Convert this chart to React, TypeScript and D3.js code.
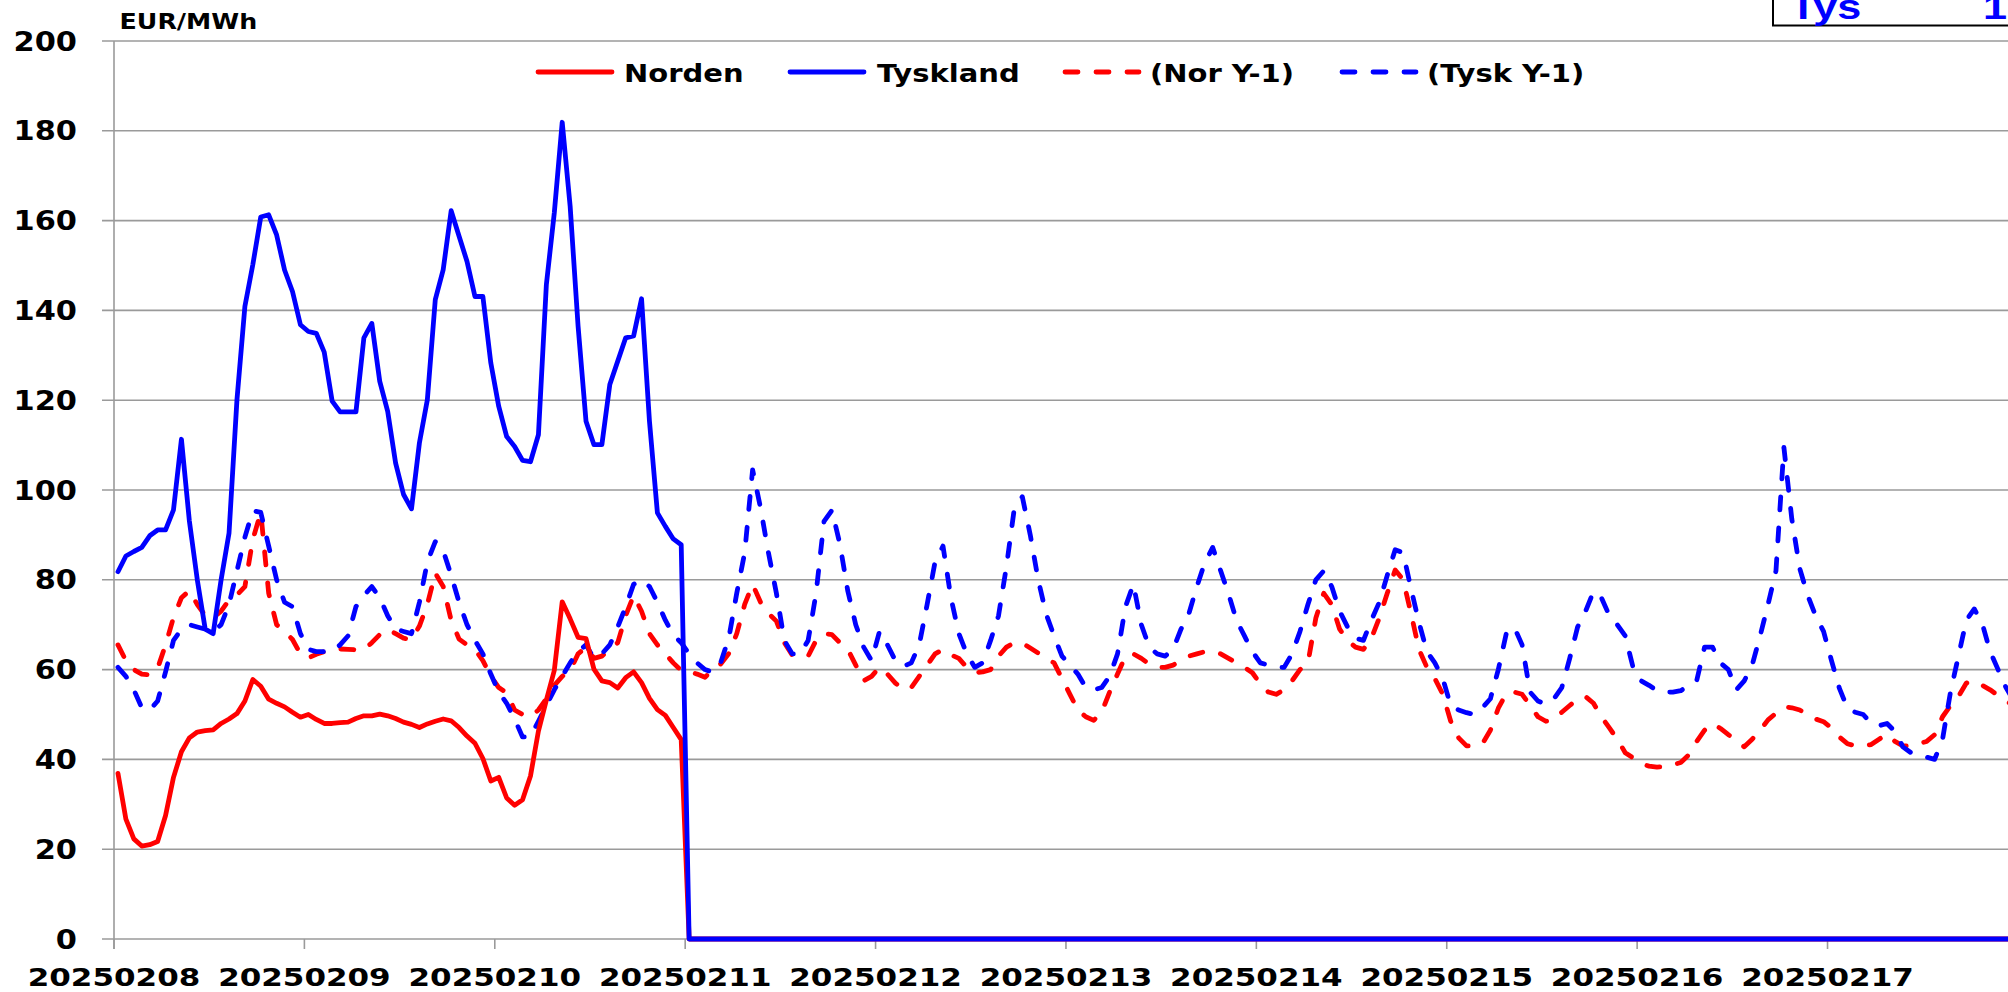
import React from 'react';
import * as d3 from 'd3';

// ---------- DATA ----------
const dayLabels = ['20250208', '20250209', '20250210', '20250211', '20250212', '20250213', '20250214', '20250215', '20250216', '20250217'];
const yTicks = [0, 20, 40, 60, 80, 100, 120, 140, 160, 180, 200];
const unitLabel = 'EUR/MWh';
const seriesNames = ['Norden', 'Tyskland', '(Nor Y-1)', '(Tysk Y-1)'];

// hourly values (current period, 0 after data ends)
const norden = [
  36.9, 26.7, 22.3, 20.7, 21, 21.7, 27.5, 36, 41.7, 44.8, 46.1, 46.4, 46.6, 48, 49, 50.2, 53, 57.8, 56.3, 53.4, 52.5, 51.7, 50.5, 49.4,
  50, 48.9, 48, 48, 48.2, 48.3, 49.1, 49.7, 49.7, 50.1, 49.7, 49.1, 48.3, 47.8, 47.1, 47.9, 48.5, 49, 48.6, 47.1, 45.2, 43.6, 40.2, 35.2,
  36, 31.4, 29.8, 31, 36.3, 46.3, 53.2, 59.8, 75.1, 71.3, 67.2, 66.9, 60.1, 57.5, 57.1, 55.9, 58.2, 59.5, 57.1, 53.6, 51.1, 49.8, 47.1, 44.4,
  0, 0, 0, 0, 0, 0, 0, 0, 0, 0, 0, 0, 0, 0, 0, 0, 0, 0, 0, 0, 0, 0, 0, 0,
  0, 0, 0, 0, 0, 0, 0, 0, 0, 0, 0, 0, 0, 0, 0, 0, 0, 0, 0, 0, 0, 0, 0, 0,
  0, 0, 0, 0, 0, 0, 0, 0, 0, 0, 0, 0, 0, 0, 0, 0, 0, 0, 0, 0, 0, 0, 0, 0,
  0, 0, 0, 0, 0, 0, 0, 0, 0, 0, 0, 0, 0, 0, 0, 0, 0, 0, 0, 0, 0, 0, 0, 0,
  0, 0, 0, 0, 0, 0, 0, 0, 0, 0, 0, 0, 0, 0, 0, 0, 0, 0, 0, 0, 0, 0, 0, 0,
  0, 0, 0, 0, 0, 0, 0, 0, 0, 0, 0, 0, 0, 0, 0, 0, 0, 0, 0, 0, 0, 0, 0, 0,
  0, 0, 0, 0, 0, 0, 0, 0, 0, 0, 0, 0, 0, 0, 0, 0, 0, 0, 0, 0, 0, 0, 0, 0,
];

const tyskland = [
  81.8, 85.3, 86.3, 87.2, 89.8, 91.1, 91.1, 95.6, 111.3, 93.1, 80, 69, 68, 80, 90.4, 120.1, 140.9, 150.2, 160.8, 161.3, 156.8, 149, 144.2, 136.8,
  135.3, 134.9, 130.7, 119.8, 117.4, 117.4, 117.4, 133.9, 137.1, 124.2, 117.5, 106, 99, 95.8, 110.5, 120.1, 142.4, 149.1, 162.2, 156.5, 150.9, 143.1, 143.1, 128.3,
  118.6, 111.9, 109.7, 106.6, 106.3, 112.3, 145.7, 161.7, 181.9, 163.2, 136.5, 115.3, 110.1, 110.1, 123.5, 128.7, 133.9, 134.3, 142.6, 115.3, 94.9, 91.9, 89.1, 87.8,
  0, 0, 0, 0, 0, 0, 0, 0, 0, 0, 0, 0, 0, 0, 0, 0, 0, 0, 0, 0, 0, 0, 0, 0,
  0, 0, 0, 0, 0, 0, 0, 0, 0, 0, 0, 0, 0, 0, 0, 0, 0, 0, 0, 0, 0, 0, 0, 0,
  0, 0, 0, 0, 0, 0, 0, 0, 0, 0, 0, 0, 0, 0, 0, 0, 0, 0, 0, 0, 0, 0, 0, 0,
  0, 0, 0, 0, 0, 0, 0, 0, 0, 0, 0, 0, 0, 0, 0, 0, 0, 0, 0, 0, 0, 0, 0, 0,
  0, 0, 0, 0, 0, 0, 0, 0, 0, 0, 0, 0, 0, 0, 0, 0, 0, 0, 0, 0, 0, 0, 0, 0,
  0, 0, 0, 0, 0, 0, 0, 0, 0, 0, 0, 0, 0, 0, 0, 0, 0, 0, 0, 0, 0, 0, 0, 0,
  0, 0, 0, 0, 0, 0, 0, 0, 0, 0, 0, 0, 0, 0, 0, 0, 0, 0, 0, 0, 0, 0, 0, 0,
];

// previous year, hourly
const norY1 = [
  65.5, 62, 60, 59, 58.8, 60.3, 65.5, 71.6, 76, 77.6, 74.5, 72, 71.5, 73, 75.5, 76.6, 78.5, 89, 95, 77, 70, 68.5, 66.7, 63.5,
  62.6, 63.4, 64, 64.5, 64.6, 64.5, 64.4, 64.4, 66, 67.8, 69, 68, 67, 66.7, 69.7, 74.5, 81.5, 78.5, 71, 66.8, 65.5, 64.5, 62, 58.5,
  56, 54.8, 51, 50, 49.5, 51, 53.5, 56.5, 58.5, 59.8, 63.5, 65, 62.5, 63, 64.5, 66, 72, 76.5, 73, 68, 65.5, 63.5, 61.5, 59.8,
  59.5, 59, 58.3, 60, 61.3, 63.6, 68, 74.5, 79, 75, 72.5, 70.8, 66, 63.2, 63.1, 63, 66.5, 68, 67.8, 66, 64.5, 61, 57.5, 58.5,
  60.5, 59, 57, 55.5, 56, 58.5, 61, 63.5, 64.5, 63.3, 62.5, 60.5, 59.3, 59.5, 60, 63, 65, 66, 65.9, 64.8, 63.7, 62.5, 61.5, 58,
  54.5, 51, 49.5, 48.7, 50.5, 55, 59, 63, 63.5, 62.5, 61.2, 60.5, 60.5, 61, 62, 63, 63.5, 64, 64, 63.5, 62.5, 61.5, 60.5, 59.3,
  56.8, 55, 54.5, 55.5, 57.5, 60, 61.5, 71.5, 77, 74.5, 69, 66.5, 65, 64.5, 67, 71.5, 77, 82.2, 80, 72.5, 64.5, 60.5, 58, 54.5,
  48.5, 44.8, 43, 43, 43.5, 46.5, 51.4, 54.7, 55, 54.5, 52, 49.5, 48.5, 48.8, 50.5, 52, 53.5, 54, 52.5, 49.5, 47, 44.5, 41.5, 40.3,
  39, 38.5, 38.3, 38.4, 38.8, 39.3, 41, 44, 46.5, 48, 46.9, 45.5, 44.3, 42.8, 44.5, 46.5, 48.8, 50.3, 51.7, 51.5, 51, 50, 49, 48.4,
  47, 45, 43.5, 43, 43, 43.3, 44.5, 45.6, 44, 43, 43, 43.5, 44, 45.5, 49.5, 52, 54, 57, 57.5, 56.5, 55.5, 54.2, 53, 52,
];

const tyskY1 = [
  60.5, 58.5, 55.5, 51.5, 51, 53, 59.5, 66.5, 69, 70, 69.5, 69, 68.5, 70, 74.5, 82, 89.5, 95.4, 95, 87.5, 80, 75, 74, 68,
  64.5, 64, 64, 64, 65.5, 67.5, 74, 76.5, 78.5, 76, 72, 69, 68.5, 68, 75, 84, 88.5, 86.5, 81, 75, 70, 66.5, 63.5, 59,
  55, 52.5, 49, 45, 45, 48.5, 52, 55.5, 58.5, 61.5, 64, 65.5, 62.5, 63.5, 65.5, 69.5, 74, 79, 80, 78.5, 75, 71, 67.7, 66,
  63.5, 61.5, 60, 59.4, 61.7, 67, 77, 86, 104.5, 96, 86, 77, 66.5, 63.5, 63.5, 66.5, 77, 93, 95.5, 88, 77.5, 70, 65, 62,
  68.5, 65.5, 62, 60.7, 61.5, 65.5, 74.5, 84, 87.5, 76, 68, 63.5, 60.5, 61.5, 66.5, 72, 83, 96, 98.5, 90, 80, 72.4, 67.5, 63,
  61, 59, 56, 55.5, 56, 58.5, 63.5, 74, 79, 70, 65, 63.5, 63, 64.5, 69, 72.5, 78.5, 83.8, 87.2, 82, 76.8, 71, 67.5, 64,
  61.5, 61, 60.5, 60.5, 63.5, 68.5, 74.5, 80, 82, 78.5, 73, 69.5, 67, 66.5, 71, 75, 81, 86.7, 86, 78, 70.5, 64, 61.5, 58,
  52, 51, 50.4, 50, 51.5, 53.5, 60, 68, 69.5, 65.5, 55, 53, 52.3, 53.5, 56, 62.5, 69.5, 73, 77.4, 76, 72, 70, 67.5, 60.4,
  57.5, 56.5, 55.3, 55, 55, 55.3, 56.5, 57.5, 65, 65, 61.5, 60, 55.5, 57.5, 61, 67.5, 74.5, 82, 109.5, 93.5, 82.5, 76.5, 72, 68.5,
  62, 55.8, 51.5, 50.5, 50, 48, 47.5, 48, 46.2, 42.8, 41.5, 41, 40.5, 40, 44.5, 55, 63, 71, 73.5, 70.3, 64, 60, 56, 53,
];

// ---------- LAYOUT ----------
const W = 2008;
const H = 992;
const plotLeft = 114;
const hourW = 7.933;
const nHours = 240;
const yTop = 41;
const yBottom = 939;
const RED = '#ff0000';
const BLUE = '#0000ff';
const GRID = '#9a9a9a';
const FONT = '"DejaVu Sans", Verdana, sans-serif';
const DASH = '13 18';
const LW = 4.8;

export default function App() {
  const x = d3.scaleLinear().domain([0, nHours]).range([plotLeft, plotLeft + nHours * hourW]);
  const y = d3.scaleLinear().domain([0, 200]).range([yBottom, yTop]);
  const line = d3
    .line<number>()
    .x((_, i) => x(i + 0.5))
    .y((v) => y(v));

  const series = [
    { name: seriesNames[2], data: norY1, color: RED, dash: DASH },
    { name: seriesNames[3], data: tyskY1, color: BLUE, dash: DASH },
    { name: seriesNames[0], data: norden, color: RED, dash: undefined },
    { name: seriesNames[1], data: tyskland, color: BLUE, dash: undefined },
  ];

  const legend = [
    { name: seriesNames[0], color: RED, dash: undefined, x0: 538, tx: 624 },
    { name: seriesNames[1], color: BLUE, dash: undefined, x0: 790, tx: 877 },
    { name: seriesNames[2], color: RED, dash: DASH, x0: 1065, tx: 1150 },
    { name: seriesNames[3], color: BLUE, dash: DASH, x0: 1342, tx: 1427 },
  ];

  const dayTicks = dayLabels.map((d, k) => ({ label: d, px: x(k * 24) }));

  return (
    <svg
      width={W}
      height={H}
      viewBox={`0 0 ${W} ${H}`}
      style={{ position: 'absolute', left: 0, top: 0, display: 'block', background: '#fff' }}
    >
      <rect x={0} y={0} width={W} height={H} fill="#fff" />

      {/* gridlines + y ticks */}
      {yTicks.map((t) => (
        <g key={t}>
          <line x1={plotLeft - 12} x2={W} y1={y(t)} y2={y(t)} stroke={GRID} strokeWidth={1.6} />
          <text
            transform={`translate(77,${y(t) + 9.5}) scale(1.17,1)`}
            textAnchor="end"
            fontFamily={FONT}
            fontWeight="bold"
            fontSize={26}
            fill="#000"
          >
            {t}
          </text>
        </g>
      ))}

      {/* y axis line */}
      <line x1={plotLeft} x2={plotLeft} y1={yTop} y2={yBottom + 10} stroke={GRID} strokeWidth={1.6} />

      {/* x ticks + labels */}
      {dayTicks.map((d) => (
        <g key={d.label}>
          <line x1={d.px} x2={d.px} y1={yBottom} y2={yBottom + 10} stroke={GRID} strokeWidth={1.6} />
          <text
            transform={`translate(${d.px},986) scale(1.24,1)`}
            textAnchor="middle"
            fontFamily={FONT}
            fontWeight="bold"
            fontSize={25}
            fill="#000"
          >
            {d.label}
          </text>
        </g>
      ))}

      {/* series */}
      {series.map((s) => (
        <path
          key={s.name}
          d={line(s.data) || ''}
          fill="none"
          stroke={s.color}
          strokeWidth={LW}
          strokeDasharray={s.dash}
          strokeLinecap="round"
          strokeLinejoin="round"
        />
      ))}

      {/* unit label */}
      <text
        transform={`translate(119.6,29.3) scale(1.15,1)`}
        fontFamily={FONT}
        fontWeight="bold"
        fontSize={22}
        fill="#000"
      >
        {unitLabel}
      </text>

      {/* legend */}
      {legend.map((l) => (
        <g key={l.name}>
          <line
            x1={l.x0}
            x2={l.x0 + 74}
            y1={72}
            y2={72}
            stroke={l.color}
            strokeWidth={LW}
            strokeDasharray={l.dash}
            strokeLinecap="round"
          />
          <text
            transform={`translate(${l.tx},81.7) scale(1.16,1)`}
            fontFamily={FONT}
            fontWeight="bold"
            fontSize={25}
            fill="#000"
          >
            {l.name}
          </text>
        </g>
      ))}

      {/* clipped info box at top right */}
      <rect x={1773} y={-10} width={300} height={35.5} fill="#fff" stroke="#000" strokeWidth={2} />
      <text
        transform="translate(1790,19) scale(1.2,1)"
        fontFamily='"Liberation Sans", Arial, sans-serif'
        fontWeight="bold"
        fontSize={36}
        fill={BLUE}
      >
        Tys
      </text>
      <text
        transform="translate(1983,19) scale(1.2,1)"
        fontFamily='"Liberation Sans", Arial, sans-serif'
        fontWeight="bold"
        fontSize={36}
        fill={BLUE}
      >
        1
      </text>
    </svg>
  );
}
